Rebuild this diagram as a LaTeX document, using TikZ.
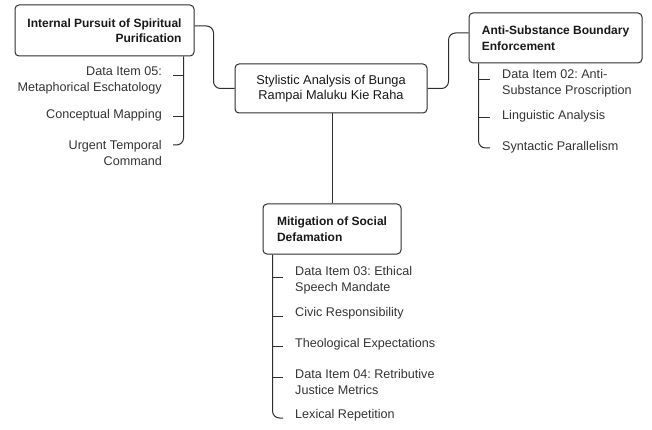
\documentclass[tikz,border=0pt]{standalone}
\usepackage{fontspec}
\setmainfont{Liberation Sans}
\frenchspacing
\definecolor{ln}{HTML}{2E2E2E}
\definecolor{tx}{HTML}{333333}
\begin{document}
\begin{tikzpicture}[x=1pt,y=-1pt,
  topic/.style={draw=ln,line width=1pt,rounded corners=4pt,fill=white,inner sep=0pt,
    font=\fontsize{12}{15.5}\selectfont\bfseries,text=black!90},
  leaf/.style={inner sep=0pt,font=\fontsize{12.6}{16}\selectfont,text=tx},
  conn/.style={draw=ln,line width=1pt,rounded corners=7pt},
  tick/.style={draw=ln,line width=1pt}]
\useasboundingbox (0,0) rectangle (652,430);
% main topics
\node[draw=ln,line width=1pt,rounded corners=4pt,fill=white,inner sep=0pt,
  font=\fontsize{12.8}{15}\selectfont,text=black!90,align=center,
  minimum width=192pt,minimum height=49pt] (C) at (331,88.5)
  {Stylistic Analysis of Bunga\\Rampai Maluku Kie Raha};
\node[topic,align=right,minimum width=179pt,minimum height=51pt] (L) at (104.5,30.5)
  {Internal Pursuit of Spiritual\\Purification};
\node[topic,align=left,minimum width=173pt,minimum height=50pt] (R) at (555.5,38)
  {Anti-Substance Boundary\\Enforcement};
\node[topic,align=left,minimum width=138pt,minimum height=50pt] (M) at (332,229)
  {Mitigation of Social\\Defamation};
% connectors between topics
\draw[conn] ([yshift=4.5pt]L.east) -- ++(19,0) |- (C.west);
\draw[conn] (C.east) -- ++(21,0) |- ([yshift=5pt]R.west);
\draw[conn] (C.south -| M.north) -- (M.north);
% left children
\node[leaf,anchor=east,align=right] (l1) at (162,80) {Data Item 05:\\Metaphorical Eschatology};
\node[leaf,anchor=east,align=right] (l2) at (162,115) {Conceptual Mapping};
\node[leaf,anchor=east,align=right] (l3) at (162,152.5) {Urgent Temporal\\Command};
\coordinate (lt1) at (173,76);
\coordinate (lt2) at (173,117);
\coordinate (lt3) at (173,145);
\draw[conn] ([xshift=-11pt]L.south east) |- (lt3);
\draw[tick] (lt1) -- (lt1 -| 183,0);
\draw[tick] (lt2) -- (lt2 -| 183,0);
% right children
\node[leaf,anchor=west,align=left] (r1) at (502,83.5) {Data Item 02: Anti-\\Substance Proscription};
\node[leaf,anchor=west,align=left] (r2) at (502,116) {Linguistic Analysis};
\node[leaf,anchor=west,align=left] (r3) at (502,147) {Syntactic Parallelism};
\coordinate (rt1) at (490,80);
\coordinate (rt2) at (490,118);
\coordinate (rt3) at (490,148);
\draw[conn] ([xshift=10pt]R.south west) |- (rt3);
\draw[tick] (rt1) -- (rt1 -| 479,0);
\draw[tick] (rt2) -- (rt2 -| 479,0);
% bottom children
\node[leaf,anchor=west,align=left] (m1) at (295,280) {Data Item 03: Ethical\\Speech Mandate};
\node[leaf,anchor=west,align=left] (m2) at (295,313) {Civic Responsibility};
\node[leaf,anchor=west,align=left] (m3) at (295,344) {Theological Expectations};
\node[leaf,anchor=west,align=left] (m4) at (295,382) {Data Item 04: Retributive\\Justice Metrics};
\node[leaf,anchor=west,align=left] (m5) at (295,415) {Lexical Repetition};
\coordinate (mt1) at (283,277);
\coordinate (mt2) at (283,316);
\coordinate (mt3) at (283,346);
\coordinate (mt4) at (283,377);
\coordinate (mt5) at (283,418);
\draw[conn] ([xshift=10pt]M.south west) |- (mt5);
\draw[tick] (mt1) -- (mt1 -| 273,0);
\draw[tick] (mt2) -- (mt2 -| 273,0);
\draw[tick] (mt3) -- (mt3 -| 273,0);
\draw[tick] (mt4) -- (mt4 -| 273,0);
\end{tikzpicture}
\end{document}
